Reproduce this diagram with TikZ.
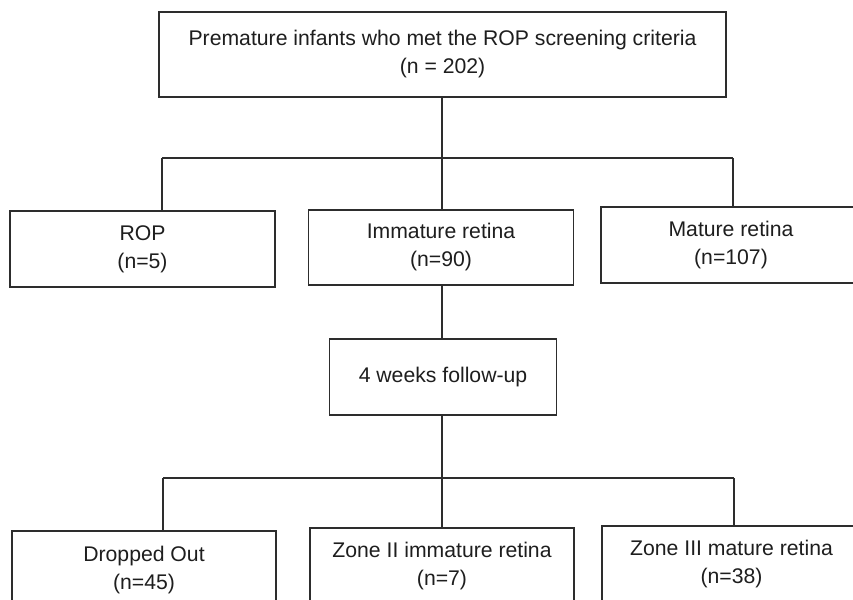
\documentclass[tikz,border=0pt]{standalone}
\usepackage{fontspec}
\setmainfont{Liberation Sans}
\usepackage{xcolor}
\usepackage{tikz}
\usetikzlibrary{positioning, calc}
\definecolor{mydark}{RGB}{45,45,45}
\definecolor{mytext}{RGB}{30,30,30}
\tikzset{
  block/.style={rectangle, draw=mydark, fill=white, align=center,
    inner sep=0pt, line width=1.2pt, text=mytext,
    font=\fontsize{21.2}{28}\selectfont},
  line/.style={draw, line width=1.2pt, color=mydark}
}

\begin{document}
\begin{tikzpicture}[x=1pt, y=-1pt]
  \useasboundingbox (0,0) rectangle (853,599);

  % Screened infants (Top)
  \node[block, minimum width=567pt, minimum height=85pt] (screen) at (442.5, 54.5) {Premature infants who met the ROP screening criteria\\(n = 202)};

  % First examination (Middle row)
  \node[block, minimum width=265pt, minimum height=76pt] (rop) at (142.5, 249) {ROP\\(n=5)};
  \node[block, minimum width=265pt, minimum height=75pt] (immature) at (441, 247.5) {Immature retina\\(n=90)};
  \node[block, minimum width=260pt, minimum height=76pt] (mature) at (731, 245) {Mature retina\\(n=107)};

  % Follow-up (Center)
  \node[block, minimum width=227pt, minimum height=76pt] (followup) at (443, 377) {4 weeks follow-up};

  % Outcome (Bottom row)
  \node[block, minimum width=264pt, minimum height=78pt] (dropped) at (144, 570) {Dropped Out\\(n=45)};
  \node[block, minimum width=264pt, minimum height=76pt] (zonetwo) at (442, 566) {Zone II immature retina\\(n=7)};
  \node[block, minimum width=259pt, minimum height=76pt] (zonethree) at (731.5, 564) {Zone III mature retina\\(n=38)};

  % Branch points
  \coordinate (splitA) at (442, 158);
  \coordinate (splitAl) at (162, 158);
  \coordinate (splitAr) at (733, 158);
  \coordinate (splitB) at (442, 478);
  \coordinate (splitBl) at (163, 478);
  \coordinate (splitBr) at (734, 478);

  % Connections - upper tree
  \draw[line] (screen.south -| splitA) -- (splitA);
  \draw[line] (splitAl) -- (splitAr);
  \draw[line] (splitAl) -- (splitAl |- rop.north);
  \draw[line] (splitA) -- (splitA |- immature.north);
  \draw[line] (splitAr) -- (splitAr |- mature.north);

  % Connections - lower tree
  \draw[line] (immature.south -| splitA) -- (followup.north -| splitA);
  \draw[line] (followup.south -| splitB) -- (splitB);
  \draw[line] (splitBl) -- (splitBr);
  \draw[line] (splitBl) -- (splitBl |- dropped.north);
  \draw[line] (splitB) -- (splitB |- zonetwo.north);
  \draw[line] (splitBr) -- (splitBr |- zonethree.north);
\end{tikzpicture}
\end{document}
